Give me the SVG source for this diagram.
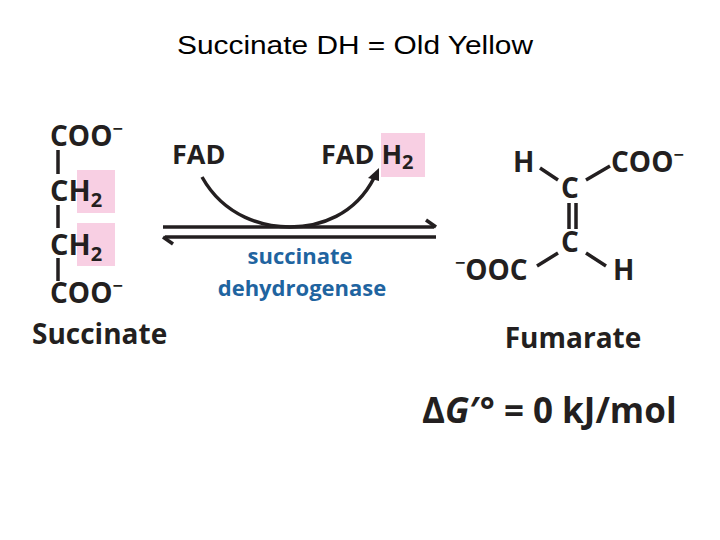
<svg xmlns="http://www.w3.org/2000/svg" width="720" height="540" viewBox="0 0 720 540">
<style>
.t{font-family:"Open Sans","Liberation Sans",sans-serif;font-weight:bold;fill:#231f20}
.b{stroke:#231f20;stroke-width:3.5;fill:none}
.pk{fill:#f8cfe3}
.en{font-family:"Open Sans","Liberation Sans",sans-serif;font-weight:bold;fill:#1f64a0;font-size:22px}
</style>
<rect width="720" height="540" fill="#fff"/>
<text x="355" y="54" text-anchor="middle" font-family="Liberation Sans,Arial,sans-serif" font-size="25" textLength="356" lengthAdjust="spacingAndGlyphs">Succinate DH = Old Yellow</text>
<g id="succinate">
<rect class="pk" x="77" y="170" width="38" height="43"/>
<rect class="pk" x="77" y="223" width="38" height="43"/>
<text class="t" x="50" y="146" font-size="28">COO<tspan font-size="18" dy="-11">−</tspan></text>
<text class="t" x="50" y="201" font-size="29">CH<tspan font-size="20" dy="6">2</tspan></text>
<text class="t" x="50" y="255" font-size="29">CH<tspan font-size="20" dy="6">2</tspan></text>
<text class="t" x="50" y="303" font-size="28">COO<tspan font-size="18" dy="-11">−</tspan></text>
<path class="b" d="M58 150V174M58 205V228M58 258V281" stroke-width="3"/>
<text class="t" x="32" y="344" font-size="28">Succinate</text>
</g>
<g id="fad"><text class="t" x="172" y="164" font-size="27">FAD</text></g>
<g id="fadh2">
<rect class="pk" x="381" y="133" width="44" height="44"/>
<text class="t" x="321" y="164" font-size="27">FAD H<tspan font-size="20" dy="5">2</tspan></text>
</g>
<g id="connectors">
<path class="b" d="M163 227H434"/>
<path d="M436 227L426 220" class="b" stroke-width="3"/>
<path class="b" d="M165 237H436"/>
<path d="M163 237L173 244" class="b" stroke-width="3"/>
<path class="b" d="M202 177C225 218 265 227 290 227C320 227 355 215 374 178" stroke-width="3"/>
<path d="M379 168L368 178L379 181Z" fill="#231f20"/>
</g>
<g id="enzyme">
<text class="en" x="300" y="264" text-anchor="middle">succinate</text>
<text class="en" x="302" y="296" text-anchor="middle">dehydrogenase</text>
</g>
<g id="fumarate">
<text class="t" x="513" y="172" font-size="28">H</text>
<text class="t" x="561" y="198" font-size="28">C</text>
<text class="t" x="611" y="172" font-size="28">COO<tspan font-size="18" dy="-11">−</tspan></text>
<text class="t" x="561" y="252" font-size="28">C</text>
<text class="t" x="455" y="280" font-size="28"><tspan font-size="18" dy="-11">−</tspan><tspan dy="11">OOC</tspan></text>
<text class="t" x="613" y="280" font-size="28">H</text>
<path class="b" d="M540 168L558 180M586 180L610 166M569 203V229M576 203V229M558 253L537 266M586 253L606 266" stroke-width="3"/>
<text class="t" x="573" y="348" text-anchor="middle" font-size="28">Fumarate</text>
</g>
<g id="dg">
<text class="t" x="422" y="423" font-size="35">Δ<tspan font-style="italic">G</tspan>′° = 0 kJ/mol</text>
</g>
</svg>
